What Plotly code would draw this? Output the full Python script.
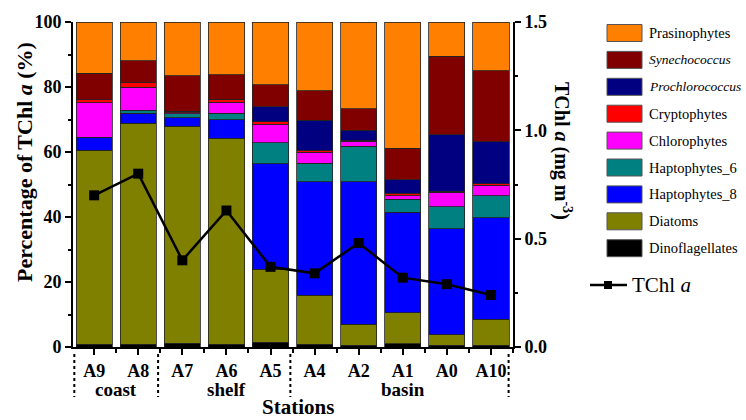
import plotly.graph_objects as go

stations = ["A9", "A8", "A7", "A6", "A5", "A4", "A2", "A1", "A0", "A10"]

# Percent contribution to TChl a (stack order bottom -> top)
dinoflagellates = [0.8, 0.8, 1.2, 0.8, 1.4, 0.8, 0.6, 1.0, 0.6, 0.6]
diatoms         = [59.7, 68.1, 66.7, 63.5, 22.5, 15.1, 6.4, 9.5, 3.2, 8.0]
haptophytes_8   = [4.1, 3.1, 2.6, 5.7, 32.5, 34.9, 43.9, 30.9, 32.6, 31.1]
haptophytes_6   = [0.0, 0.8, 1.3, 2.0, 6.4, 5.8, 10.8, 4.1, 6.8, 6.8]
chlorophytes    = [10.5, 7.2, 0.3, 3.3, 5.7, 3.3, 1.6, 1.0, 4.4, 3.3]
cryptophytes    = [1.0, 1.3, 0.5, 1.0, 0.8, 0.6, 0.3, 0.8, 0.3, 0.4]
prochlorococcus = [0.0, 0.0, 0.0, 0.0, 4.6, 9.2, 3.1, 4.1, 17.4, 12.9]
synechococcus   = [8.1, 6.8, 10.8, 7.4, 6.8, 9.1, 6.6, 9.8, 24.2, 21.9]
prasinophytes   = [15.8, 11.9, 16.6, 16.3, 19.3, 21.2, 26.7, 38.8, 10.5, 15.0]

# Total chlorophyll a (mg m-3)
tchl_a = [0.70, 0.80, 0.40, 0.63, 0.37, 0.34, 0.48, 0.32, 0.29, 0.24]

# Region groups
group_labels = ["coast", "shelf", "basin"]
group_centers = [0.5, 3, 7]
group_separators = [-0.45, 1.45, 4.45, 9.4]

series = [
    ("Dinoflagellates", dinoflagellates, "#000000"),
    ("Diatoms", diatoms, "#808000"),
    ("Haptophytes_8", haptophytes_8, "#0000FF"),
    ("Haptophytes_6", haptophytes_6, "#008080"),
    ("Chlorophytes", chlorophytes, "#FF00FF"),
    ("Cryptophytes", cryptophytes, "#FF0000"),
    ("<i>Prochlorococcus</i>", prochlorococcus, "#000080"),
    ("<i>Synechococcus</i>", synechococcus, "#800000"),
    ("Prasinophytes", prasinophytes, "#FF8000"),
]

SERIF = "Liberation Serif, Times New Roman, serif"
xs = list(range(len(stations)))

fig = go.Figure()
for name, vals, col in series:
    fig.add_trace(go.Bar(
        x=xs, y=vals, name=name, marker=dict(color=col, line=dict(color="#222222", width=0.8)),
        showlegend=False,
    ))

fig.add_trace(go.Scatter(
    x=xs, y=tchl_a, yaxis="y2", mode="lines+markers", name="TChl a",
    line=dict(color="black", width=2.5),
    marker=dict(symbol="square", size=10, color="black"),
    showlegend=False,
))

# plot-area geometry (px)
L, R, T, B = 73, 513, 22, 347
W, H = R - L, B - T


def px_x(p):
    return (p - L) / W


def px_y(p):
    return (B - p) / H


shapes = []
annotations = []

# manual legend
legend_rows = list(reversed(series))
for i, (name, vals, col) in enumerate(legend_rows):
    cy = 33 + 26.9 * i
    shapes.append(dict(type="rect", xref="paper", yref="paper",
                       x0=px_x(607), x1=px_x(642), y0=px_y(cy + 8.5), y1=px_y(cy - 8.5),
                       fillcolor=col, line=dict(color="#555555", width=1)))
    fsize = 13.5 if name.startswith("<i>") else 14.5
    annotations.append(dict(xref="paper", yref="paper", x=px_x(647), y=px_y(cy),
                            text=name, showarrow=False, xanchor="left", yanchor="middle",
                            font=dict(family=SERIF, size=fsize, color="black")))

# TChl a legend item
ly = 285
shapes.append(dict(type="line", xref="paper", yref="paper", x0=px_x(590), x1=px_x(627),
                   y0=px_y(ly), y1=px_y(ly), line=dict(color="black", width=2.5)))
shapes.append(dict(type="rect", xref="paper", yref="paper", x0=px_x(604), x1=px_x(612),
                   y0=px_y(ly + 4), y1=px_y(ly - 4), fillcolor="black", line=dict(color="black", width=0)))
annotations.append(dict(xref="paper", yref="paper", x=px_x(630), y=px_y(ly),
                        text="TChl <i>a</i>", showarrow=False, xanchor="left", yanchor="middle",
                        font=dict(family=SERIF, size=21, color="black")))

# group labels & separators
for lab, c in zip(group_labels, group_centers):
    annotations.append(dict(xref="x", yref="paper", x=c, y=px_y(389), text="<b>%s</b>" % lab,
                            showarrow=False, xanchor="center", yanchor="middle",
                            font=dict(family=SERIF, size=19, color="black")))
for s in group_separators:
    shapes.append(dict(type="line", xref="x", yref="paper", x0=s, x1=s,
                       y0=px_y(354), y1=px_y(397), line=dict(color="black", width=2, dash="dot")))

# titles
annotations.append(dict(xref="paper", yref="paper", x=px_x(298), y=px_y(420),
                        text="<b>Stations</b>", showarrow=False, xanchor="center", yanchor="bottom",
                        borderpad=0, font=dict(family=SERIF, size=21, color="black")))
annotations.append(dict(xref="paper", yref="paper", x=px_x(24), y=px_y(162),
                        text="<b>Percentage of TChl <i>a</i> (%)</b>", showarrow=False, textangle=-90,
                        xanchor="center", yanchor="middle",
                        font=dict(family=SERIF, size=22, color="black")))
annotations.append(dict(xref="paper", yref="paper", x=px_x(563), y=px_y(151),
                        text="<b>TChl <i>a</i> (mg m<sup>-3</sup>)</b>", showarrow=False, textangle=90,
                        xanchor="center", yanchor="middle",
                        font=dict(family=SERIF, size=20, color="black")))

tickfont = dict(family=SERIF, size=18, color="black")

fig.update_layout(
    width=746, height=420,
    margin=dict(l=L, r=746 - R, t=T, b=420 - B, pad=0),
    paper_bgcolor="white", plot_bgcolor="white",
    barmode="stack", bargap=0.18,
    showlegend=False,
    xaxis=dict(
        range=[-0.48, 9.5], tickmode="array", tickvals=xs,
        ticktext=["<b>%s</b>" % s for s in stations],
        tickfont=tickfont, showline=True, linecolor="black", linewidth=2,
        ticks="outside", ticklen=6, tickwidth=1.5, tickcolor="black",
        minor=dict(tickmode="linear", tick0=-0.5, dtick=1, ticks="outside", ticklen=4,
                   tickwidth=1.5, tickcolor="black"),
        showgrid=False, zeroline=False, fixedrange=True,
    ),
    yaxis=dict(
        range=[0, 100], tickvals=[0, 20, 40, 60, 80, 100],
        ticktext=["<b>%d</b>" % v for v in [0, 20, 40, 60, 80, 100]],
        tickfont=tickfont, showline=True, linecolor="black", linewidth=2,
        ticks="outside", ticklen=6, tickwidth=1.5, tickcolor="black",
        minor=dict(tickmode="linear", tick0=10, dtick=20, ticks="outside", ticklen=3,
                   tickwidth=1.5, tickcolor="black"),
        showgrid=False, zeroline=False,
    ),
    yaxis2=dict(
        range=[0, 1.5], overlaying="y", side="right",
        tickvals=[0, 0.5, 1.0, 1.5],
        ticktext=["<b>%.1f</b>" % v for v in [0, 0.5, 1.0, 1.5]],
        tickfont=tickfont, showline=True, linecolor="black", linewidth=2,
        ticks="outside", ticklen=6, tickwidth=1.5, tickcolor="black",
        minor=dict(tickmode="linear", tick0=0.25, dtick=0.5, ticks="outside", ticklen=3,
                   tickwidth=1.5, tickcolor="black"),
        showgrid=False, zeroline=False,
    ),
    shapes=shapes,
    annotations=annotations,
)

fig.write_html(
    "out.html",
    config={"displayModeBar": False},
    post_script="document.body.style.margin='0';document.body.style.overflow='hidden';",
)
